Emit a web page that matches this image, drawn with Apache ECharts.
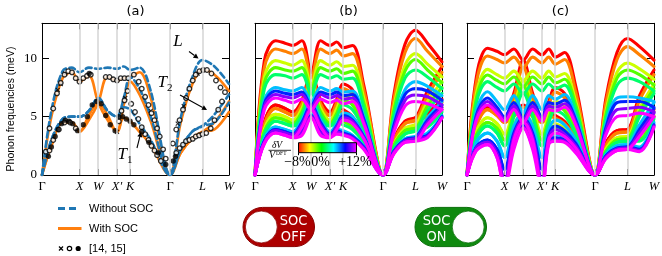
<!DOCTYPE html>
<html><head><meta charset="utf-8">
<script src="https://cdn.jsdelivr.net/npm/echarts@6/dist/echarts.min.js"></script>
<style>html,body{margin:0;padding:0;background:#fff}#c{width:662px;height:256px}</style>
</head><body><div id="c"></div>
<script>
// ---------- path / axes ----------
const kPath = [0, 0.25, 0.55, 0.8, 1.0, 1.25, 1.5, 1.75, 2.0, 2.18, 2.354, 2.6, 2.9, 3.414, 3.7, 4.0, 4.28, 4.6, 4.987];
const hsTickPos = [0, 1.0, 1.5, 2.0, 2.354, 3.414, 4.28, 4.987];
const hsTickNames = ['Γ', 'X', 'W', 'X′', 'K', 'Γ', 'L', 'W'];
const yTickVals = [0, 5, 10];
const panelTitles = ['(a)', '(b)', '(c)'];

// ---------- panel (a) ----------
const noSocA = [0, 3.0, 4.8, 5.0, 5.0, 5.5, 6.6, 5.5, 5.0, 5.8, 5.6, 4.4, 3.0, 0, 2.2, 3.7, 4.2, 4.5, 6.2];
const noSocB = [0, 3.0, 4.8, 5.0, 5.0, 5.5, 6.6, 5.5, 5.0, 6.6, 8.4, 7.4, 5.0, 0, 2.2, 3.7, 4.2, 5.2, 6.9];
const noSocC = [0, 5.5, 8.9, 9.2, 8.8, 9.2, 9.1, 9.2, 9.1, 9.3, 9.0, 9.2, 7.2, 0, 4.9, 8.3, 9.85, 9.3, 7.8];
const socA = [0, 2.5, 4.5, 4.5, 3.7, 5.1, 6.2, 5.1, 3.7, 4.9, 4.6, 3.7, 2.6, 0, 1.9, 3.1, 3.7, 3.9, 5.4];
const socB = [0, 2.5, 4.5, 4.5, 3.7, 4.7, 6.2, 8.4, 8.1, 8.3, 8.4, 8.8, 6.6, 0, 4.5, 7.7, 9.0, 8.6, 7.2];
const socC = [0, 5.0, 8.3, 8.8, 8.0, 8.5, 6.2, 4.7, 3.7, 6.0, 8.0, 6.9, 4.6, 0, 1.9, 3.1, 3.7, 4.5, 6.3];
const expOpen = [
 [0.1,2.0],[0.2,4.0],[0.3,5.7],[0.4,7.0],[0.5,7.9],[0.6,8.6],[0.7,8.9],[0.8,8.8],[0.9,8.3],[1.0,8.0],[1.1,8.3],[1.2,8.5],[1.3,8.6],
 [1.7,8.4],[1.8,8.4],[1.9,8.2],
 [0.2,2.1],[0.3,3.0],[0.45,3.9],[0.6,4.5],[0.75,4.5],[0.9,4.0],
 [2.0,8.1],[2.1,8.3],[2.2,8.3],[2.3,8.3],
 [2.05,4.6],[2.12,5.5],[2.2,6.4],[2.28,7.2],
 [2.45,8.6],[2.58,8.0],[2.66,7.4],[2.75,6.7],[2.84,6.0],[2.92,5.3],[3.0,4.7],[3.07,4.0],[3.14,3.3],[3.23,2.2],[3.3,1.4],
 [2.38,6.1],[2.48,5.4],[2.57,4.8],[2.66,4.1],[2.75,3.5],[2.84,3.0],[2.92,2.5],[3.0,2.1],[3.07,1.7],[3.17,1.2],
 [3.49,2.7],[3.58,3.9],[3.67,4.7],[3.76,5.6],[3.84,6.6],[3.93,7.4],[4.02,8.1],[4.1,8.6],[4.2,8.9],[4.3,9.0],[4.4,9.0],[4.52,8.7],[4.64,8.1],[4.76,7.5],[4.88,7.1],
 [3.58,1.9],[3.67,2.3],[3.76,2.6],[3.84,2.9],[3.93,3.0],[4.02,3.1],[4.1,3.3],[4.19,3.4],[4.28,3.5],[4.38,3.6],[4.5,4.0],[4.6,4.7],[4.7,5.6],[4.8,6.3]
];
const expFilled = [
 [0.17,1.6],[0.25,2.4],[0.35,3.3],[0.43,3.9],[0.52,4.4],[0.62,4.7],[0.72,4.6],[0.82,4.4],[0.95,3.8],
 [1.1,4.3],[1.21,5.0],[1.34,6.0],[1.46,6.3],[1.58,6.1],[1.7,5.1],[1.82,4.3],[1.95,3.8],[1.26,8.7],
 [2.05,5.0],[2.15,5.0],[2.25,4.8],[2.35,4.6],[2.45,4.3],[2.66,3.7],[2.85,2.8],[3.1,1.9],[3.3,0.9],
 [3.5,1.2],[3.56,1.6]
];
const expCross = [[0.42,7.3],[0.5,7.8],[0.62,8.7],[2.0,3.7],[2.22,6.6],[2.9,5.5],[3.62,4.4],[3.78,5.9],[4.15,8.7]];

// ---------- panels (b) and (c): 9 volumes, red (-8%) ... magenta (+12%) ----------
const volumeColors = ['#ff0000', '#ff8000', '#ccff00', '#55ff00', '#00ff6a', '#00bfff', '#0022ff', '#8800ff', '#ff00ff'];
const colorbarLabels = ['−8%', '0%', '+12%'];

const offL = [
 [0, 9.8, 11.5, 11.3, 11.1, 11.5, 8.8, 11.5, 11.1, 11.4, 10.9, 11.1, 7.7, 0, 6.8, 11.2, 12.4, 11.3, 9.7],
 [0, 9.2, 10.8, 10.6, 10.4, 10.8, 8.4, 10.8, 10.4, 10.7, 10.2, 10.4, 7.3, 0, 6.4, 10.5, 11.7, 10.6, 9.3],
 [0, 8.4, 9.8, 9.6, 9.4, 9.8, 7.8, 9.8, 9.4, 9.7, 9.3, 9.4, 6.6, 0, 5.8, 9.4, 10.4, 9.5, 8.4],
 [0, 7.9, 9.2, 9.0, 8.9, 9.2, 7.4, 9.2, 8.9, 9.1, 8.7, 8.9, 6.2, 0, 5.5, 8.9, 9.9, 9.0, 7.9],
 [0, 7.4, 8.6, 8.5, 8.3, 8.6, 7.0, 8.6, 8.3, 8.5, 8.2, 8.3, 5.8, 0, 5.1, 8.3, 9.0, 8.4, 7.4],
 [0, 6.4, 7.5, 7.3, 7.2, 7.5, 6.3, 7.5, 7.2, 7.4, 7.1, 7.2, 5.0, 0, 4.5, 7.3, 8.0, 7.6, 6.8],
 [0, 6.1, 7.2, 7.0, 6.9, 7.1, 6.0, 7.1, 6.9, 7.1, 6.8, 6.9, 4.8, 0, 4.2, 6.9, 7.4, 7.2, 6.4],
 [0, 5.9, 6.9, 6.7, 6.6, 6.9, 5.8, 6.9, 6.6, 6.8, 6.5, 6.6, 4.6, 0, 3.9, 6.4, 6.85, 6.7, 6.0],
 [0, 5.6, 6.6, 6.4, 6.2, 6.5, 5.6, 6.5, 6.2, 6.4, 6.1, 6.3, 4.4, 0, 3.6, 5.9, 6.3, 6.1, 5.6]
];
const offT2 = [
 [0, 4.5, 6.0, 5.7, 5.4, 6.4, 8.8, 6.4, 5.4, 6.5, 7.8, 7.3, 5.0, 0, 3.0, 4.6, 4.9, 7.2, 9.3],
 [0, 4.3, 5.7, 5.4, 5.1, 6.1, 8.4, 6.1, 5.1, 6.2, 7.4, 6.9, 4.8, 0, 2.9, 4.4, 4.7, 6.8, 8.8],
 [0, 3.9, 5.2, 5.0, 4.7, 5.7, 7.8, 5.7, 4.7, 5.7, 6.8, 6.4, 4.4, 0, 2.6, 4.0, 4.3, 6.3, 8.0],
 [0, 3.7, 4.9, 4.7, 4.4, 5.4, 7.4, 5.4, 4.4, 5.3, 6.4, 6.0, 4.2, 0, 2.5, 3.8, 4.0, 5.9, 7.5],
 [0, 3.5, 4.6, 4.4, 4.2, 5.1, 7.0, 5.1, 4.2, 5.0, 6.0, 5.6, 3.9, 0, 2.3, 3.5, 3.8, 5.5, 7.0],
 [0, 3.1, 4.1, 3.9, 3.7, 4.7, 6.3, 4.7, 3.7, 4.4, 5.3, 5.0, 3.4, 0, 2.0, 3.1, 3.3, 4.9, 6.3],
 [0, 2.9, 3.9, 3.7, 3.5, 4.5, 6.0, 4.5, 3.5, 4.2, 5.1, 4.7, 3.3, 0, 2.0, 3.0, 3.2, 4.7, 6.0],
 [0, 2.8, 3.8, 3.6, 3.4, 4.3, 5.8, 4.3, 3.4, 4.1, 4.9, 4.6, 3.2, 0, 1.9, 2.9, 3.1, 4.5, 5.8],
 [0, 2.7, 3.6, 3.4, 3.2, 4.1, 5.6, 4.1, 3.2, 3.9, 4.7, 4.4, 3.1, 0, 1.8, 2.8, 2.9, 4.3, 5.6]
];
const offT1 = [
 [0, 4.5, 6.0, 5.7, 5.4, 5.7, 6.3, 5.7, 5.4, 5.8, 5.6, 5.0, 3.6, 0, 3.0, 4.6, 4.9, 5.3, 6.5],
 [0, 4.3, 5.7, 5.4, 5.1, 5.4, 6.1, 5.4, 5.1, 5.5, 5.3, 4.8, 3.4, 0, 2.9, 4.4, 4.7, 5.0, 6.2],
 [0, 3.9, 5.2, 5.0, 4.7, 5.0, 5.8, 5.0, 4.7, 5.0, 4.9, 4.4, 3.1, 0, 2.6, 4.0, 4.3, 4.6, 5.8],
 [0, 3.7, 4.9, 4.7, 4.4, 4.7, 5.6, 4.7, 4.4, 4.8, 4.6, 4.1, 2.9, 0, 2.5, 3.8, 4.0, 4.3, 5.6],
 [0, 3.5, 4.6, 4.4, 4.2, 4.4, 5.5, 4.4, 4.2, 4.5, 4.3, 3.9, 2.8, 0, 2.3, 3.5, 3.8, 4.1, 5.4],
 [0, 3.1, 4.1, 3.9, 3.7, 3.9, 5.2, 3.9, 3.7, 3.9, 3.8, 3.4, 2.5, 0, 2.0, 3.1, 3.3, 3.6, 5.1],
 [0, 2.9, 3.9, 3.7, 3.5, 3.7, 5.1, 3.7, 3.5, 3.8, 3.6, 3.3, 2.4, 0, 2.0, 3.0, 3.2, 3.4, 5.0],
 [0, 2.8, 3.8, 3.6, 3.4, 3.6, 5.0, 3.6, 3.4, 3.7, 3.5, 3.2, 2.3, 0, 1.9, 2.9, 3.1, 3.3, 4.9],
 [0, 2.7, 3.6, 3.4, 3.2, 3.4, 4.9, 3.4, 3.2, 3.5, 3.4, 3.1, 2.2, 0, 1.8, 2.8, 2.9, 3.2, 4.9]
];
const onL = [
 [0, 8.4, 10.86, 10.6, 10.3, 10.8, 9.85, 10.8, 10.3, 10.8, 10.1, 10.5, 7.6, 0, 6.5, 10.5, 11.7, 11.0, 9.85],
 [0, 7.9, 10.2, 9.9, 9.6, 10.1, 9.2, 10.1, 9.6, 10.1, 9.5, 9.9, 7.1, 0, 6.1, 9.9, 11.0, 10.3, 9.3],
 [0, 7.0, 9.05, 8.6, 8.3, 8.9, 8.1, 8.9, 8.3, 8.9, 8.4, 8.7, 6.3, 0, 5.4, 8.8, 9.6, 9.1, 8.2],
 [0, 6.6, 8.57, 8.1, 7.8, 8.4, 7.6, 8.4, 7.8, 8.4, 7.9, 8.2, 6.0, 0, 5.1, 8.3, 9.0, 8.6, 7.7],
 [0, 6.2, 8.0, 7.5, 7.2, 7.8, 7.0, 7.8, 7.2, 7.8, 7.4, 7.7, 5.6, 0, 4.8, 7.7, 8.3, 8.0, 7.2],
 [0, 5.5, 7.14, 6.3, 5.6, 6.8, 5.4, 6.8, 5.6, 6.8, 6.5, 6.9, 5.0, 0, 4.3, 6.6, 6.7, 6.6, 6.3],
 [0, 5.1, 6.6, 5.8, 5.0, 6.2, 4.9, 6.2, 5.0, 6.2, 6.1, 6.4, 4.7, 0, 4.0, 6.2, 6.3, 6.3, 5.8],
 [0, 4.9, 6.3, 5.5, 4.8, 5.9, 4.7, 5.9, 4.8, 5.9, 5.8, 6.1, 4.5, 0, 3.7, 5.6, 5.7, 5.8, 5.4],
 [0, 4.7, 6.0, 5.3, 4.6, 5.6, 4.5, 5.6, 4.6, 5.6, 5.5, 5.8, 4.3, 0, 3.4, 5.0, 5.1, 5.3, 5.0]
];
const onT2 = [
 [0, 4.4, 5.8, 5.4, 4.9, 7.0, 9.85, 7.0, 4.9, 6.3, 7.5, 7.0, 4.8, 0, 2.7, 3.8, 3.9, 6.8, 9.0],
 [0, 4.2, 5.6, 5.1, 4.5, 6.6, 9.2, 6.6, 4.5, 6.0, 7.1, 6.6, 4.5, 0, 2.5, 3.6, 3.7, 6.4, 8.6],
 [0, 3.7, 4.9, 4.4, 3.5, 5.8, 8.1, 5.8, 3.5, 5.2, 6.3, 5.9, 4.0, 0, 2.2, 3.2, 3.3, 5.7, 7.8],
 [0, 3.4, 4.5, 4.0, 3.0, 5.4, 7.6, 5.4, 3.0, 4.8, 5.9, 5.5, 3.7, 0, 2.0, 3.0, 3.1, 5.4, 7.4],
 [0, 3.2, 4.2, 3.6, 2.5, 5.0, 7.0, 5.0, 2.5, 4.5, 5.5, 5.1, 3.5, 0, 1.9, 2.8, 2.9, 5.0, 7.0],
 [0, 2.8, 3.6, 2.9, 1.5, 4.2, 5.4, 4.2, 1.5, 3.9, 4.7, 4.3, 3.0, 0, 1.7, 2.5, 2.6, 4.3, 6.2],
 [0, 2.4, 3.0, 2.2, 0.5, 3.6, 4.9, 3.6, 0.5, 3.4, 4.2, 3.8, 2.7, 0, 1.6, 2.3, 2.4, 3.9, 5.7],
 [0, 2.3, 2.8, 1.8, -0.5, 3.3, 4.7, 3.3, -0.5, 3.2, 3.9, 3.5, 2.5, 0, 1.5, 2.2, 2.3, 3.6, 5.3],
 [0, 2.1, 2.6, 1.5, -1.2, 3.0, 4.5, 3.0, -1.2, 3.0, 3.6, 3.3, 2.3, 0, 1.4, 2.1, 2.2, 3.3, 5.0]
];
const onT1 = [
 [0, 4.4, 5.8, 5.4, 4.9, 5.3, 6.0, 5.3, 4.9, 5.3, 5.1, 4.6, 3.4, 0, 2.7, 3.8, 3.9, 4.2, 5.6],
 [0, 4.2, 5.6, 5.1, 4.5, 5.0, 5.8, 5.0, 4.5, 5.0, 4.9, 4.4, 3.2, 0, 2.5, 3.6, 3.7, 3.9, 5.4],
 [0, 3.7, 4.9, 4.4, 3.5, 4.4, 5.4, 4.4, 3.5, 4.5, 4.4, 4.0, 2.9, 0, 2.2, 3.2, 3.3, 3.4, 5.1],
 [0, 3.4, 4.5, 4.0, 3.0, 4.1, 5.2, 4.1, 3.0, 4.2, 4.1, 3.8, 2.8, 0, 2.0, 3.0, 3.1, 3.1, 5.0],
 [0, 3.2, 4.2, 3.6, 2.5, 3.8, 5.0, 3.8, 2.5, 3.9, 3.9, 3.6, 2.6, 0, 1.9, 2.8, 2.9, 2.9, 4.8],
 [0, 2.8, 3.6, 2.9, 1.5, 3.2, 4.6, 3.2, 1.5, 3.4, 3.5, 3.2, 2.3, 0, 1.7, 2.5, 2.6, 2.4, 4.5],
 [0, 2.4, 3.0, 2.2, 0.5, 2.7, 4.3, 2.7, 0.5, 3.0, 3.2, 3.0, 2.1, 0, 1.6, 2.3, 2.4, 2.2, 4.3],
 [0, 2.3, 2.8, 1.8, -0.5, 2.4, 4.1, 2.4, -0.5, 2.8, 3.0, 2.9, 2.0, 0, 1.5, 2.2, 2.3, 2.1, 4.2],
 [0, 2.1, 2.6, 1.5, -1.2, 2.2, 4.0, 2.2, -1.2, 2.6, 2.9, 2.8, 1.9, 0, 1.4, 2.1, 2.2, 2.0, 4.1]
];

// ---------- build chart ----------
const SERIF = 'Liberation Serif', SANS = 'Liberation Sans';
const grids = [
  {left: 42, top: 23.3, width: 187, height: 151.7},
  {left: 255, top: 23.3, width: 187, height: 151.7},
  {left: 467, top: 23.3, width: 187, height: 151.7}
].map(g => Object.assign({outerBoundsMode: 'none', containLabel: false, show: false}, g));

function xLabelFmt(v) {
  const i = hsTickPos.findIndex(p => Math.abs(p - v) < 1e-6);
  if (i < 0) return '';
  const n = hsTickNames[i];
  return n === 'Γ' ? '{g|Γ}' : '{i|' + n + '}';
}
const inner = hsTickPos.slice(1, -1);
const xAxes = [], yAxes = [];
grids.forEach((g, gi) => {
  const line = {show: true, onZero: false, lineStyle: {color: '#000', width: 1}};
  xAxes.push({type: 'value', gridIndex: gi, min: 0, max: hsTickPos[hsTickPos.length - 1], position: 'bottom',
    axisLine: line, splitLine: {show: false},
    axisTick: {show: true, inside: true, length: 6, customValues: inner, lineStyle: {color: '#000'}},
    axisLabel: {show: true, customValues: hsTickPos, formatter: xLabelFmt, margin: 5,
      rich: {g: {fontFamily: SERIF, fontSize: 12.5, color: '#000'}, i: {fontFamily: SERIF, fontStyle: 'italic', fontSize: 12.5, color: '#000'}}}});
  xAxes.push({type: 'value', gridIndex: gi, min: 0, max: hsTickPos[hsTickPos.length - 1], position: 'top',
    axisLine: line, splitLine: {show: false},
    axisTick: {show: true, inside: true, length: 6, customValues: inner, lineStyle: {color: '#000'}},
    axisLabel: {show: false}});
  yAxes.push({type: 'value', gridIndex: gi, min: 0, max: 13, position: 'left',
    axisLine: line, splitLine: {show: false},
    axisTick: {show: true, inside: true, length: 7, customValues: yTickVals, lineStyle: {color: '#000'}},
    axisLabel: {show: gi === 0, customValues: yTickVals, fontFamily: SERIF, fontSize: 13, color: '#000', margin: 5}});
  yAxes.push({type: 'value', gridIndex: gi, min: 0, max: 13, position: 'right',
    axisLine: line, splitLine: {show: false},
    axisTick: {show: true, inside: true, length: 7, customValues: yTickVals, lineStyle: {color: '#000'}},
    axisLabel: {show: false}});
});

const series = [];
function toPts(arr) { return kPath.map((k, i) => [k, arr[i]]); }
// grey high-symmetry lines
grids.forEach((g, gi) => {
  series.push({type: 'line', xAxisIndex: 2 * gi, yAxisIndex: 2 * gi, data: [], silent: true, z: 1,
    markLine: {silent: true, symbol: 'none', animation: false, label: {show: false},
      lineStyle: {color: '#d4d4d4', width: 1.5, type: 'solid'},
      data: inner.map(v => ({xAxis: v}))}});
});
function band(gi, arr, color, width, dash) {
  series.push({type: 'line', xAxisIndex: 2 * gi, yAxisIndex: 2 * gi, data: toPts(arr), smooth: 0.35,
    symbol: 'none', silent: true, clip: true, z: 2,
    lineStyle: {color: color, width: width, type: dash || 'solid', cap: 'round', join: 'round'}});
}
// (a)
[socA, socB, socC].forEach(a => band(0, a, '#ff7f0e', 2.6));
[noSocA, noSocB, noSocC].forEach(a => band(0, a, '#1f77b4', 2.6, [6, 3.5]));
series.push({type: 'scatter', xAxisIndex: 0, yAxisIndex: 0, data: expCross, z: 3,
  symbol: 'path://M0 0L10 10M10 0L0 10', symbolSize: 4,
  itemStyle: {color: 'rgba(0,0,0,0)', borderColor: '#000', borderWidth: 1.2}});
series.push({type: 'scatter', xAxisIndex: 0, yAxisIndex: 0, data: expOpen, z: 3,
  symbol: 'circle', symbolSize: 4.6, itemStyle: {color: '#fff', borderColor: '#000', borderWidth: 1.3}});
series.push({type: 'scatter', xAxisIndex: 0, yAxisIndex: 0, data: expFilled, z: 3,
  symbol: 'circle', symbolSize: 5.4, itemStyle: {color: '#000'}});
// (b), (c)
volumeColors.forEach((c, vi) => {
  band(1, offT1[vi], c, 3.1); band(1, offT2[vi], c, 3.1); band(1, offL[vi], c, 3.1);
});
volumeColors.forEach((c, vi) => {
  band(2, onT1[vi], c, 3.1); band(2, onT2[vi], c, 3.1); band(2, onL[vi], c, 3.1);
});

// ---------- graphic (titles, legend, annotations, colorbar, toggles) ----------
function txt(x, y, text, o) {
  return {type: 'text', z: 100, silent: true, style: Object.assign({x: x, y: y, text: text, fill: '#000',
    fontFamily: SANS, fontSize: 11, align: 'center', verticalAlign: 'middle'}, o || {})};
}
function seg(x1, y1, x2, y2, color, w) {
  return {type: 'line', z: 100, silent: true, shape: {x1: x1, y1: y1, x2: x2, y2: y2}, style: {stroke: color || '#000', lineWidth: w || 1.1}};
}
function arrow(x1, y1, x2, y2) {
  const a = Math.atan2(y2 - y1, x2 - x1), L = 5, W = 2.6;
  const bx = x2 - L * Math.cos(a), by = y2 - L * Math.sin(a);
  return [
    seg(x1, y1, bx, by),
    {type: 'polygon', z: 100, silent: true, shape: {points: [[x2, y2], [bx - W * Math.sin(a), by + W * Math.cos(a)], [bx + W * Math.sin(a), by - W * Math.cos(a)]]}, style: {fill: '#000'}}
  ];
}
const gEls = [];
grids.forEach((g, gi) => gEls.push(txt(g.left + g.width / 2, 11.5, panelTitles[gi], {fontFamily: 'DejaVu Sans', fontSize: 13})));
gEls.push({type: 'text', z: 100, silent: true, x: 11.5, y: 109, rotation: Math.PI / 2,
  style: {x: 0, y: 0, text: 'Phonon frequencies (meV)', fill: '#000', fontFamily: SANS, fontSize: 10.5, align: 'center', verticalAlign: 'middle'}});
// annotations in (a)
gEls.push(txt(178, 42, 'L', {fontFamily: SERIF, fontStyle: 'italic', fontSize: 17}));
gEls.push(...arrow(189, 51.5, 198.5, 58.5));
const subRich = {t: {fontFamily: SERIF, fontStyle: 'italic', fontSize: 17, verticalAlign: 'bottom'}, s: {fontFamily: SERIF, fontSize: 11, verticalAlign: 'bottom', padding: [0, 0, -2, 0]}};
gEls.push(txt(165, 83, '{t|T}{s|2}', {rich: subRich}));
gEls.push(...arrow(180, 95, 207, 110));
gEls.push(txt(125, 155, '{t|T}{s|1}', {rich: subRich}));
gEls.push(...arrow(137, 148, 141, 132));
// legend
gEls.push({type: 'line', z: 100, silent: true, shape: {x1: 58, y1: 208.5, x2: 80, y2: 208.5}, style: {stroke: '#1f77b4', lineWidth: 3, lineDash: [7, 4]}});
gEls.push(seg(58, 228.5, 81.5, 228.5, '#ff7f0e', 3));
gEls.push(seg(59, 246.5, 63, 250.5, '#000', 1.2));
gEls.push(seg(63, 246.5, 59, 250.5, '#000', 1.2));
gEls.push({type: 'circle', z: 100, silent: true, shape: {cx: 69.5, cy: 248.5, r: 2.2}, style: {fill: '#fff', stroke: '#000', lineWidth: 1.2}});
gEls.push({type: 'circle', z: 100, silent: true, shape: {cx: 78.2, cy: 248.5, r: 2.6}, style: {fill: '#000'}});
gEls.push(txt(89, 208.5, 'Without SOC', {align: 'left'}));
gEls.push(txt(89, 228.5, 'With SOC', {align: 'left'}));
gEls.push(txt(89, 248.5, '[14, 15]', {align: 'left'}));
// colorbar in (b)
const cbX = 298.5, cbY = 142.7, cbW = 58, cbH = 10;
gEls.push({type: 'rect', z: 100, silent: true, shape: {x: cbX, y: cbY, width: cbW, height: cbH},
  style: {stroke: '#000', lineWidth: 1, fill: new echarts.graphic.LinearGradient(0, 0, 1, 0, [
    {offset: 0, color: '#ff0000'}, {offset: 0.1, color: '#ff8000'}, {offset: 0.2, color: '#ffff00'}, {offset: 0.3, color: '#80ff00'},
    {offset: 0.4, color: '#00ff00'}, {offset: 0.5, color: '#00ff80'}, {offset: 0.6, color: '#00ffff'}, {offset: 0.7, color: '#0080ff'},
    {offset: 0.8, color: '#0000ff'}, {offset: 0.9, color: '#8000ff'}, {offset: 1, color: '#ff00ff'}])}});
[cbX, cbX + cbW * 0.4, cbX + cbW].forEach(x => gEls.push(seg(x, cbY + cbH, x, cbY + cbH + 2.5, '#000', 1)));
gEls.push(txt(297.5, 162.5, colorbarLabels[0], {fontFamily: SERIF, fontSize: 14}));
gEls.push(txt(320.5, 162.5, colorbarLabels[1], {fontFamily: SERIF, fontSize: 14}));
gEls.push(txt(355, 162.5, colorbarLabels[2], {fontFamily: SERIF, fontSize: 14}));
gEls.push(txt(277, 145.3, 'δV', {fontFamily: SERIF, fontStyle: 'italic', fontSize: 9.5}));
gEls.push(seg(268.5, 150.3, 291, 150.3, '#000', 0.8));
gEls.push(txt(269, 155.5, '{v|V}{d|DFT}', {align: 'left', rich: {v: {fontFamily: SERIF, fontStyle: 'italic', fontSize: 10, verticalAlign: 'bottom'}, d: {fontFamily: SERIF, fontSize: 5.5, verticalAlign: 'top', padding: [0, 0, 0, 1]}}}));
// toggles
function toggle(x, fill, stroke, knobLeft, l1, l2) {
  const w = 71.5, h = 39.2, y = 207.4;
  const els = [{type: 'rect', z: 100, silent: true, shape: {x: x, y: y, width: w, height: h, r: h / 2}, style: {fill: fill, stroke: stroke, lineWidth: 1}}];
  const cx = knobLeft ? x + 18.3 : x + w - 18.3;
  els.push({type: 'circle', z: 101, silent: true, shape: {cx: cx, cy: y + h / 2, r: 16}, style: {fill: '#fff', stroke: stroke, lineWidth: 0.8}});
  const tx = knobLeft ? x + 50.5 : x + 21.5;
  const t1 = txt(tx, y + 13.8, l1, {fill: '#fff', fontFamily: 'DejaVu Sans Condensed', fontSize: 14.5}); t1.z = 102;
  const t2 = txt(tx, y + 30.3, l2, {fill: '#fff', fontFamily: 'DejaVu Sans Condensed', fontSize: 14.5}); t2.z = 102;
  els.push(t1, t2);
  return els;
}
gEls.push(...toggle(243, '#ad0000', '#8a0000', true, 'SOC', 'OFF'));
gEls.push(...toggle(415, '#0f8a0f', '#0a6e0a', false, 'SOC', 'ON'));

const chart = echarts.init(document.getElementById('c'), null, {renderer: 'canvas', width: 662, height: 256});
chart.setOption({
  animation: false, backgroundColor: '#fff',
  grid: grids, xAxis: xAxes, yAxis: yAxes, series: series, graphic: {elements: gEls}
});
</script></body></html>
